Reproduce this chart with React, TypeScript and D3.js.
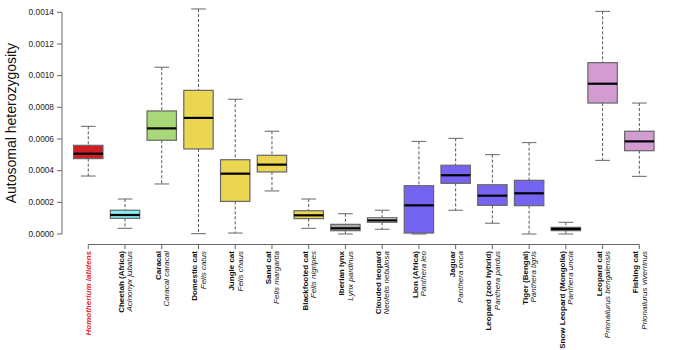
import React from 'react';
import * as d3 from 'd3';

// species labels
const commonNames = [
  '', 'Cheetah (Africa)', 'Caracal', 'Domestic cat', 'Jungle cat', 'Sand cat',
  'Blackfooted cat', 'Iberian lynx', 'Clouded leopard', 'Lion (Africa)', 'Jaguar',
  'Leopard (zoo hybrid)', 'Tiger (Bengal)', 'Snow Leopard (Mongolia)', 'Leopard cat', 'Fishing cat',
];
const sciNames = [
  'Homotherium latidens', 'Acinonyx jubatus', 'Caracal caracal', 'Felis catus', 'Felis chaus',
  'Felis margarita', 'Felis nigripes', 'Lynx pardinus', 'Neofelis nebulosa', 'Panthera leo',
  'Panthera onca', 'Panthera pardus', 'Panthera tigris', 'Panthera uncia',
  'Prionailurus bengalensis', 'Prionailurus viverrinus',
];

// box statistics
const whiskerLow = [0.000366, 0.000036, 0.000316, 0.000002, 0.000006, 0.000272, 0.000036, 0.0, 0.00003, 0.0, 0.00015, 0.000068, 0.0, 0.0, 0.000465, 0.000364];
const q1 = [0.000476, 0.000099, 0.000592, 0.000537, 0.000206, 0.000392, 0.000097, 0.000021, 0.000074, 0.000006, 0.00032, 0.000181, 0.000179, 0.000021, 0.000827, 0.000526];
const medians = [0.000507, 0.00012, 0.000667, 0.000733, 0.000381, 0.000438, 0.000118, 0.000036, 0.000086, 0.000181, 0.000371, 0.000242, 0.000257, 0.000032, 0.000949, 0.000585];
const q3 = [0.00056, 0.00015, 0.000777, 0.000907, 0.000469, 0.000497, 0.000147, 0.000061, 0.000103, 0.000305, 0.000434, 0.000311, 0.000339, 0.000042, 0.001082, 0.000649];
const whiskerHigh = [0.00068, 0.000221, 0.001053, 0.001421, 0.000851, 0.000649, 0.000221, 0.000128, 0.00015, 0.000585, 0.000604, 0.000501, 0.000577, 0.000074, 0.001406, 0.000827];

const fills = [
  '#d01e24', '#80eef3', '#a8d877', '#ebd652', '#ebd652', '#ebd652', '#ebd652', '#aaaaaa',
  '#e2e2e2', '#7563f2', '#7563f2', '#7563f2', '#7563f2', '#5548c8', '#d29bd2', '#d29bd2',
];

const yTicks = [0, 0.0002, 0.0004, 0.0006, 0.0008, 0.001, 0.0012, 0.0014];

const W = 678;
const H = 350;
const font = 'Liberation Sans, Arial, Helvetica, sans-serif';

export default function App() {
  const x = d3.scaleBand<number>()
    .domain(d3.range(sciNames.length))
    .range([69.9, 657.7])
    .paddingInner(0.2)
    .paddingOuter(0.1);

  const y = d3.scaleLinear().domain([0, 0.0014]).range([234, 12.3]);

  const bw = x.bandwidth();
  const cx = (i: number) => (x(i) as number) + bw / 2;
  const axisX = 62;
  const axisY = 244.5;
  const grey = '#666';
  const labelTop = 251;
  const labelSize = 8;

  return (
    <svg width={W} height={H} style={{ position: 'absolute', left: 0, top: 0 }} fontFamily={font}>
      <rect width={W} height={H} fill="#fff" />

      {/* y axis */}
      <line x1={axisX} x2={axisX} y1={y(0)} y2={y(0.0014)} stroke={grey} />
      {yTicks.map(t => (
        <g key={t} transform={`translate(0,${y(t)})`}>
          <line x1={axisX - 5} x2={axisX} stroke={grey} />
          <text x={axisX - 8} dy="0.33em" textAnchor="end" fontSize={8.3} fill="#222">
            {d3.format('.4f')(t)}
          </text>
        </g>
      ))}
      <text
        transform={`translate(16,${(y(0) + y(0.0014)) / 2}) rotate(-90)`}
        textAnchor="middle"
        fontSize={14}
        fill="#111"
      >
        Autosomal heterozygosity
      </text>

      {/* x axis */}
      <line x1={cx(0)} x2={cx(sciNames.length - 1)} y1={axisY} y2={axisY} stroke={grey} />
      {sciNames.map((s, i) => (
        <g key={s}>
          <line x1={cx(i)} x2={cx(i)} y1={axisY} y2={axisY + 4.5} stroke={grey} />
          {i === 0 ? (
            <text
              transform={`translate(${cx(i) + 2.8},${labelTop}) rotate(-90)`}
              textAnchor="end"
              fontSize={labelSize}
              fontStyle="italic"
              fontWeight="bold"
              fill="#e8262b"
            >
              {s}
            </text>
          ) : (
            <>
              <text
                transform={`translate(${cx(i) - 1},${labelTop}) rotate(-90)`}
                textAnchor="end"
                fontSize={labelSize}
                fontWeight="bold"
                fill="#111"
              >
                {commonNames[i]}
              </text>
              <text
                transform={`translate(${cx(i) + 7.3},${labelTop}) rotate(-90)`}
                textAnchor="end"
                fontSize={labelSize}
                fontStyle="italic"
                fill="#222"
              >
                {s}
              </text>
            </>
          )}
        </g>
      ))}

      {/* boxes */}
      {sciNames.map((s, i) => {
        const c = cx(i);
        return (
          <g key={'b' + s}>
            <line x1={c} x2={c} y1={y(whiskerHigh[i])} y2={y(q3[i])} stroke="#555" strokeDasharray="3,2" />
            <line x1={c} x2={c} y1={y(q1[i])} y2={y(whiskerLow[i])} stroke="#555" strokeDasharray="3,2" />
            <line x1={c - bw / 4} x2={c + bw / 4} y1={y(whiskerHigh[i])} y2={y(whiskerHigh[i])} stroke={grey} />
            <line x1={c - bw / 4} x2={c + bw / 4} y1={y(whiskerLow[i])} y2={y(whiskerLow[i])} stroke={grey} />
            <rect
              x={c - bw / 2}
              y={y(q3[i])}
              width={bw}
              height={y(q1[i]) - y(q3[i])}
              fill={fills[i]}
              stroke={grey}
              strokeWidth={1.2}
            />
            <line x1={c - bw / 2} x2={c + bw / 2} y1={y(medians[i])} y2={y(medians[i])} stroke="#000" strokeWidth={2.2} />
          </g>
        );
      })}
    </svg>
  );
}
